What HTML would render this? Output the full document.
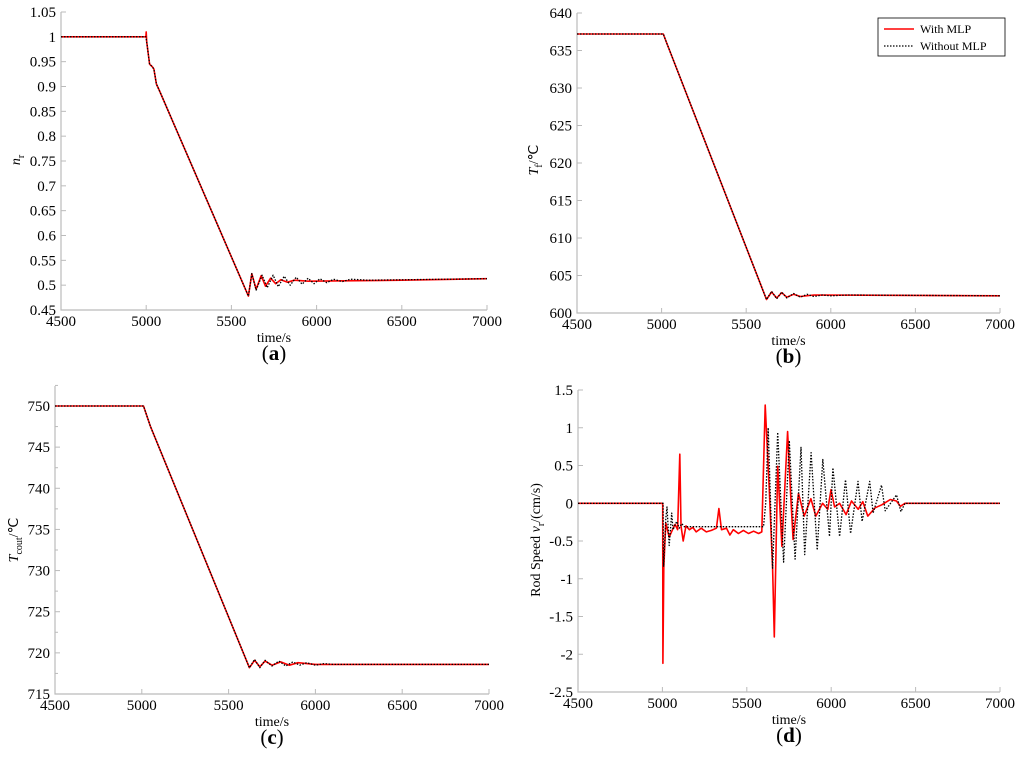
<!DOCTYPE html>
<html><head><meta charset="utf-8"><style>
html,body{margin:0;padding:0;background:#fff;}
svg{display:block;font-family:"Liberation Serif",serif;}
</style></head><body>
<svg id="fig" width="1024" height="767" viewBox="0 0 1024 767"></svg>
<script>
// ---- Data ----
const aRedT=[4500,4998,5000,5003,5020,5035,5045,5060,5080,5600,5620,5645,5675,5700,5730,5760,5790,5830,5870,5950,6500,7000];
const aRedV=[1,1,1.01,0.99,0.945,0.94,0.935,0.905,0.89,0.478,0.523,0.492,0.519,0.498,0.514,0.503,0.511,0.506,0.51,0.508,0.51,0.513];
const aBlkT=[4500,4998,5003,5020,5035,5045,5060,5080,5600,5620,5645,5680,5710,5745,5775,5810,5845,5880,5915,5950,5985,6020,6060,6100,6150,6200,6300,7000];
const aBlkV=[1,1,0.99,0.945,0.94,0.935,0.905,0.89,0.478,0.523,0.49,0.52,0.495,0.52,0.497,0.518,0.5,0.516,0.502,0.514,0.503,0.513,0.505,0.512,0.507,0.512,0.51,0.513];
const bRedT=[4500,5010,5030,5620,5650,5680,5710,5740,5780,5820,5900,7000];
const bRedV=[637.2,637.2,636,601.8,602.8,602,602.7,602.1,602.5,602.2,602.4,602.3];
const bBlkT=[4500,5010,5030,5620,5650,5680,5710,5740,5780,5820,5860,5900,5950,6000,6100,7000];
const bBlkV=[637.2,637.2,636,601.8,602.9,601.9,602.8,602,602.6,602.1,602.5,602.2,602.4,602.3,602.4,602.3];
const cRedT=[4500,5010,5050,5620,5650,5680,5710,5750,5800,5850,5900,6000,7000];
const cRedV=[750,750,747.5,718.2,719.1,718.3,719,718.5,718.9,718.5,718.8,718.6,718.6];
const cBlkT=[4500,5010,5050,5620,5650,5680,5710,5750,5790,5830,5870,5910,5950,6000,6050,6100,7000];
const cBlkV=[750,750,747.5,718.2,719.2,718.2,719.1,718.4,719,718.4,718.9,718.5,718.8,718.5,718.7,718.6,718.6];
const dRedT=[4500,5002,5003,5008,5020,5040,5060,5075,5090,5103,5110,5123,5140,5160,5180,5200,5230,5260,5290,5320,5335,5350,5380,5400,5420,5450,5480,5510,5540,5570,5589,5609,5633,5653,5663,5683,5708,5742,5760,5774,5806,5840,5880,5909,5949,5980,5999,6020,6050,6088,6120,6160,6187,6217,6260,6300,6350,6387,6410,6437,7000];
const dRedV=[0,0,-2.12,-0.85,-0.26,-0.45,-0.35,-0.28,-0.35,0.65,-0.3,-0.5,-0.3,-0.35,-0.32,-0.38,-0.33,-0.38,-0.36,-0.33,-0.07,-0.35,-0.33,-0.42,-0.35,-0.4,-0.36,-0.4,-0.37,-0.4,-0.38,1.3,0.18,-0.86,-1.77,0.49,-0.57,0.95,0.1,-0.48,0.13,-0.17,0.06,-0.17,0,-0.08,0.18,-0.05,0,-0.15,0.03,-0.08,0.02,-0.17,-0.06,-0.02,0.05,0.03,-0.04,0,0];
const dBlkT=[4500,5004,5007,5020,5027,5040,5055,5063,5085,5100,5115,5130,5599,5612,5627,5653,5683,5718,5752,5786,5821,5843,5881,5917,5950,5990,6010,6050,6085,6115,6159,6183,6228,6248,6298,6320,6387,6413,6437,7000];
const dBlkV=[0,0,-0.84,-0.2,-0.05,-0.56,-0.13,-0.35,-0.24,-0.33,-0.27,-0.31,-0.31,0,1.0,-0.86,0.94,-0.78,0.83,-0.74,0.74,-0.68,0.67,-0.62,0.58,-0.44,0.47,-0.44,0.31,-0.4,0.29,-0.24,0.29,-0.13,0.24,-0.1,0.11,-0.11,0,0];
const xTicks=[4500,5000,5500,6000,6500,7000];
const aTicks=['0.45','0.5','0.55','0.6','0.65','0.7','0.75','0.8','0.85','0.9','0.95','1','1.05'];
const bTicks=['600','605','610','615','620','625','630','635','640'];
const cTicks=['715','720','725','730','735','740','745','750'];
const dTicks=['-2.5','-2','-1.5','-1','-0.5','0','0.5','1','1.5'];

const NS='http://www.w3.org/2000/svg';
const svg=document.getElementById('fig');
function mk(tag,attrs,parent,text){const e=document.createElementNS(NS,tag);for(const k in attrs)e.setAttribute(k,attrs[k]);if(text!==undefined)e.textContent=text;(parent||svg).appendChild(e);return e;}

function panel(id,P,ticks,minor,red,blk){
  const g=mk('g',{});
  
  
  const sx=t=>P.x0+(t-4500)/2500*(P.x1-P.x0);
  const sy=v=>P.yb-(v-P.vmin)/(P.vmax-P.vmin)*(P.yb-P.yt);
  const ax=mk('path',{d:`M${P.x0},${P.top}V${P.yb}H${P.x1}`,fill:'none',stroke:'#bbb','stroke-width':1.2},g);
  
  
  xTicks.forEach(t=>{
    mk('line',{x1:sx(t),x2:sx(t),y1:P.yb,y2:P.yb-5,stroke:'#bbb'},g);
    const l=mk('text',{x:sx(t),y:P.yb+16,'text-anchor':'middle','font-size':15},g,String(t));
    
    
  });
  ticks.forEach(s=>{
    const v=parseFloat(s),y=sy(v);
    mk('line',{x1:P.x0,x2:P.x0+5,y1:y,y2:y,stroke:'#bbb'},g);
    if(minor){const ym=sy(v+minor);if(ym>=P.top-1)mk('line',{x1:P.x0,x2:P.x0+3,y1:ym,y2:ym,stroke:'#bbb'},g);}
    const l=mk('text',{x:P.x0-5,y:y+5,'text-anchor':'end','font-size':15},g,s);
    
    
  });
  const line=(T,V,attrs,name)=>{
    const d=T.map((t,i)=>(i?'L':'M')+sx(t).toFixed(1)+','+sy(V[i]).toFixed(1)).join('');
    const p=mk('path',Object.assign({d,fill:'none','stroke-linejoin':'round'},attrs),g);
    
    
  };
  line(red[0],red[1],{stroke:'#f00','stroke-width':1.6},'series-with-mlp');
  line(blk[0],blk[1],{stroke:'#000','stroke-width':1.3,'stroke-dasharray':'1.5,1.5'},'series-without-mlp');
  const xt=mk('text',{x:(P.x0+P.x1)/2,y:P.yb+32,'text-anchor':'middle','font-size':14},g,'time/s');
  
  
  const cap=mk('text',{x:(P.x0+P.x1)/2,y:P.yb+50,'text-anchor':'middle','font-size':21},g);
  
  
  mk('tspan',{},cap,'(');mk('tspan',{'font-weight':'bold'},cap,id);mk('tspan',{},cap,')');
  return g;
}
panel('a',{x0:61,x1:487,yt:12,yb:310,top:12,vmin:0.45,vmax:1.05},aTicks,0,[aRedT,aRedV],[aBlkT,aBlkV]);
panel('b',{x0:577,x1:1000,yt:13,yb:313,top:13,vmin:600,vmax:640},bTicks,0,[bRedT,bRedV],[bBlkT,bBlkV]);
panel('c',{x0:55,x1:489,yt:406,yb:694,top:386,vmin:715,vmax:750},cTicks,2.5,[cRedT,cRedV],[cBlkT,cBlkV]);
panel('d',{x0:578,x1:1000,yt:390,yb:692,top:390,vmin:-2.5,vmax:1.5},dTicks,0,[dRedT,dRedV],[dBlkT,dBlkV]);

function ytitle(x,y,html,name){
  const t=mk('text',{transform:`translate(${x},${y}) rotate(-90)`,'text-anchor':'middle','font-size':14});
  t.innerHTML=html;
  
  
}
ytitle(20,160,'<tspan font-style="italic">n</tspan><tspan font-size="10" dy="4">r</tspan>','y-axis-title-a');
ytitle(538,160,'<tspan font-style="italic">T</tspan><tspan font-size="10" dy="4">f</tspan><tspan dy="-4">/℃</tspan>','y-axis-title-b');
ytitle(18,540,'<tspan font-style="italic">T</tspan><tspan font-size="10" dy="4">cout</tspan><tspan dy="-4">/℃</tspan>','y-axis-title-c');
ytitle(540,540,'Rod Speed <tspan font-style="italic">v</tspan><tspan font-size="10" dy="4">r</tspan><tspan dy="-4">/(cm/s)</tspan>','y-axis-title-d');

const lg=mk('g',{});


mk('rect',{x:878,y:18,width:127,height:38,fill:'#fff',stroke:'#000','stroke-width':0.8},lg);
mk('line',{x1:884,x2:914,y1:29,y2:29,stroke:'#f00','stroke-width':1.6},lg);
const l1=mk('text',{x:920,y:33,'font-size':12},lg,'With MLP');


mk('line',{x1:884,x2:914,y1:46,y2:46,stroke:'#000','stroke-width':1.3,'stroke-dasharray':'1.5,1.5'},lg);
const l2=mk('text',{x:920,y:50,'font-size':12},lg,'Without MLP');


</script>
</body></html>
